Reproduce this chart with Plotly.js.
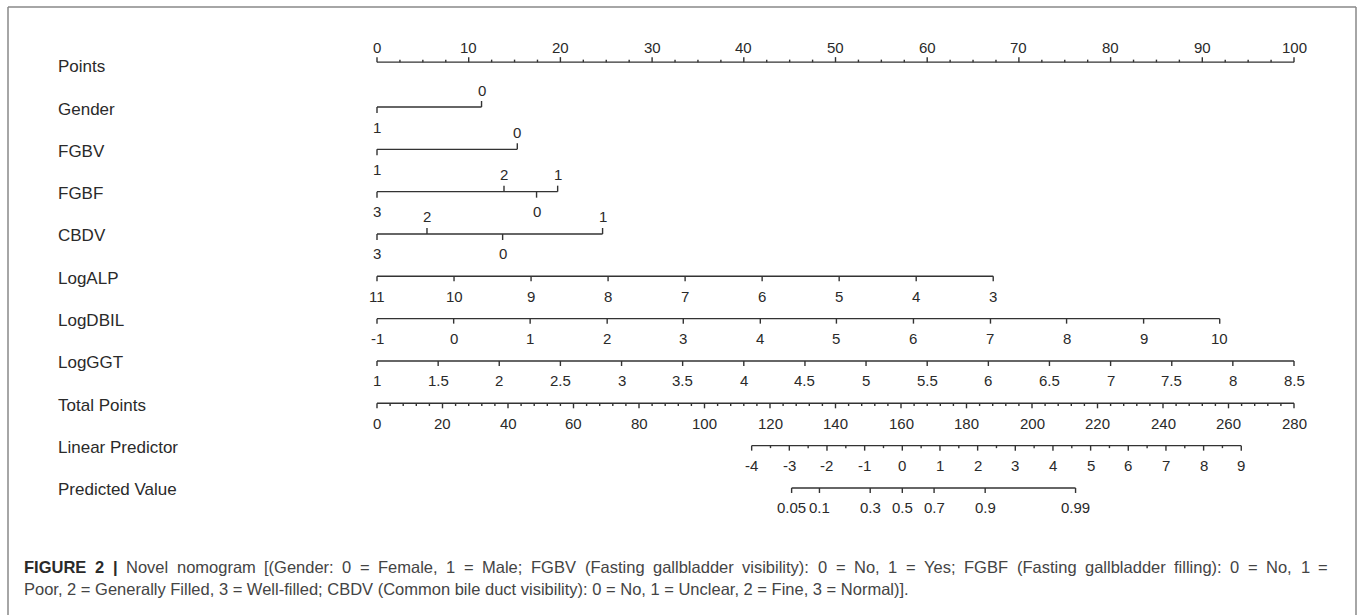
<!DOCTYPE html>
<html><head><meta charset="utf-8">
<script src="https://cdn.plot.ly/plotly-3.0.1.min.js"></script>
<style>html,body{margin:0;padding:0;background:#fff}#chart{width:1362px;height:615px}</style>
</head><body><div id="chart"></div>
<script>
// ---------------- DATA ----------------
const rowNames = ["Points","Gender","FGBV","FGBF","CBDV","LogALP","LogDBIL","LogGGT","Total Points","Linear Predictor","Predicted Value"];

const pointsTicks = [0,10,20,30,40,50,60,70,80,90,100];

const genderLabels = ["0","1"];
const genderPoints = [11.4, 0];

const fgbvLabels = ["0","1"];
const fgbvPoints = [15.3, 0];

const fgbfLabels = ["3","2","0","1"];
const fgbfPoints = [0, 13.85, 17.4, 19.7];

const cbdvLabels = ["3","2","0","1"];
const cbdvPoints = [0, 5.45, 13.7, 24.6];

const logALPLabels = ["11","10","9","8","7","6","5","4","3"];
const logALPPoints = [0, 8.4, 16.8, 25.2, 33.6, 42.0, 50.4, 58.8, 67.2];

const logDBILLabels = ["-1","0","1","2","3","4","5","6","7","8","9","10"];
const logDBILPoints = [0, 8.36, 16.7, 25.1, 33.4, 41.8, 50.1, 58.5, 66.9, 75.2, 83.6, 91.9];

const logGGTLabels = ["1","1.5","2","2.5","3","3.5","4","4.5","5","5.5","6","6.5","7","7.5","8","8.5"];
const logGGTPoints = [0, 6.67, 13.33, 20, 26.67, 33.33, 40, 46.67, 53.33, 60, 66.67, 73.33, 80, 86.67, 93.33, 100];

const totalTicks = [0,20,40,60,80,100,120,140,160,180,200,220,240,260,280];
const totalMax = 280;

const lpLabels = ["-4","-3","-2","-1","0","1","2","3","4","5","6","7","8","9"];
const lpTotal = [114.4, 125.9, 137.4, 148.9, 160.4, 171.9, 183.4, 194.9, 206.4, 217.9, 229.4, 240.9, 252.4, 263.9];

const pvLabels = ["0.05","0.1","0.3","0.5","0.7","0.9","0.99"];
const pvTotal = [126.6, 135.1, 150.6, 160.4, 170.1, 185.7, 213.3];

const captionBold = "FIGURE 2 |";
const captionLine1 = "Novel nomogram [(Gender: 0 = Female, 1 = Male; FGBV (Fasting gallbladder visibility): 0 = No, 1 = Yes; FGBF (Fasting gallbladder filling): 0 = No, 1 =";
const captionLine2 = "Poor, 2 = Generally Filled, 3 = Well-filled; CBDV (Common bile duct visibility): 0 = No, 1 = Unclear, 2 = Fine, 3 = Normal)].";

// ---------------- LAYOUT / STYLE ----------------
const W = 1362, H = 615;
const X0PX = 377, PXPERPT = 9.17;        // points scale placement
const ROW1PX = 107, PXPERROW = 42.33;    // row placement
const toPts = v => v * 100 / totalMax;   // total points -> points scale

const rowPos = [-0.06,1,2,3,4,5,6,7,8,9,10];
const lineColor = "#333";
const textColor = "#2a2a2a";
const FAM = "'Liberation Sans',Arial,sans-serif";
const tickFont = {family: FAM, size: 15, color: textColor};
const rowFont = {family: FAM, size: 17, color: textColor};

function midpoints(a){ const m=[]; for(let i=0;i<a.length-1;i++) m.push((a[i]+a[i+1])/2); return m; }
function stepMinor(lo, hi, step, majors){ const m=[]; for(let v=lo; v<=hi+1e-9; v+=step){ if(!majors.some(t=>Math.abs(t-v)<1e-6)) m.push(v);} return m; }

const rows = [
  {labels: pointsTicks.map(String), pos: pointsTicks, side: "up", tick: 5, minor: stepMinor(0,100,2.5,pointsTicks), minorTick: 2.5, offUp: 15},
  {labels: genderLabels, pos: genderPoints, side: ["up","down"], tick: 6},
  {labels: fgbvLabels, pos: fgbvPoints, side: ["up","down"], tick: 6},
  {labels: fgbfLabels, pos: fgbfPoints, side: ["down","up","down","up"], tick: 6},
  {labels: cbdvLabels, pos: cbdvPoints, side: ["down","up","down","up"], tick: 6},
  {labels: logALPLabels, pos: logALPPoints, side: "down", tick: 5},
  {labels: logDBILLabels, pos: logDBILPoints, side: "down", tick: 5},
  {labels: logGGTLabels, pos: logGGTPoints, side: "down", tick: 5},
  {labels: totalTicks.map(String), pos: totalTicks.map(toPts), side: "down", tick: 5,
     minor: stepMinor(0,totalMax,4,totalTicks).map(toPts), minorTick: 2.7},
  {labels: lpLabels, pos: lpTotal.map(toPts), side: "down", tick: 5, minor: midpoints(lpTotal).map(toPts), minorTick: 2.5},
  {labels: pvLabels, pos: pvTotal.map(toPts), side: "down", tick: 5}
];

const traces = [];
const annotations = [];
rows.forEach((r, i) => {
  const y = rowPos[i];
  const xs = [], ys = [];
  const lo = Math.min(...r.pos), hi = Math.max(...r.pos);
  xs.push(lo, hi, null); ys.push(y, y, null);
  r.pos.forEach((p, k) => {
    const side = Array.isArray(r.side) ? r.side[k] : r.side;
    const d = (side === "up" ? -1 : 1) * r.tick / PXPERROW;
    xs.push(p, p, null); ys.push(y, y + d, null);
    const off = side === "up" ? (r.offUp || 17) : (r.offDown || 20);
    annotations.push({x: p, y: y, xref: "x", yref: "y", text: r.labels[k], showarrow: false,
      xanchor: "center", yanchor: "middle", yshift: side === "up" ? off : -off, font: tickFont});
  });
  if (r.minor) {
    const side = Array.isArray(r.side) ? r.side[0] : r.side;
    r.minor.forEach(p => {
      const d = (side === "up" ? -1 : 1) * r.minorTick / PXPERROW;
      xs.push(p, p, null); ys.push(y, y + d, null);
    });
  }
  traces.push({x: xs, y: ys, type: "scatter", mode: "lines", line: {color: lineColor, width: 1.4},
    hoverinfo: "skip", showlegend: false, cliponaxis: false});
  annotations.push({x: 56 / W, xref: "paper", y: i, yref: "y", text: rowNames[i], showarrow: false,
    xanchor: "left", yanchor: "middle", yshift: -2, font: rowFont});
});

// ---------------- caption (first line justified like the journal layout) ----------------
const CAP_SIZE = 16.5, CAP_LEFT = 23, CAP_RIGHT = 1327;
const capFont = {family: FAM, size: CAP_SIZE, color: "#444"};
const capBoldFont = {family: FAM, size: CAP_SIZE, color: "#2a2a2a", weight: "bold"};
const ctx = document.createElement("canvas").getContext("2d");
function measure(t, bold){ ctx.font = (bold ? "bold " : "") + CAP_SIZE + "px 'Liberation Sans', Arial, sans-serif"; return ctx.measureText(t).width; }
const tokens = captionBold.split(" ").map(t => ({t, b: true})).concat(captionLine1.split(" ").map(t => ({t, b: false})));
const widths = tokens.map(o => measure(o.t, o.b));
const gap = ((CAP_RIGHT - CAP_LEFT) - widths.reduce((a, b) => a + b, 0)) / (tokens.length - 1);
let cx = CAP_LEFT;
tokens.forEach((o, k) => {
  annotations.push({x: cx / W, xref: "paper", y: 1 - 567 / H, yref: "paper", xanchor: "left", yanchor: "middle",
    showarrow: false, borderpad: 0, font: o.b ? capBoldFont : capFont, text: o.b ? "<b>" + o.t + "</b>" : o.t});
  cx += widths[k] + gap;
});
annotations.push({x: CAP_LEFT / W, xref: "paper", y: 1 - 589 / H, yref: "paper", xanchor: "left", yanchor: "middle",
  showarrow: false, borderpad: 0, font: capFont, text: captionLine2});

const frame = {color: "#888", width: 1.5};
const shapes = [
  {type: "line", xref: "paper", yref: "paper", x0: 8 / W, x1: 1356 / W, y0: 1 - 7 / H, y1: 1 - 7 / H, line: frame},
  {type: "line", xref: "paper", yref: "paper", x0: 8 / W, x1: 8 / W, y0: 1 - 7 / H, y1: -0.05, line: frame},
  {type: "line", xref: "paper", yref: "paper", x0: 1356 / W, x1: 1356 / W, y0: 1 - 7 / H, y1: -0.05, line: frame}
];

const layout = {
  width: W, height: H, margin: {l: 0, r: 0, t: 0, b: 0},
  paper_bgcolor: "#fff", plot_bgcolor: "#fff",
  xaxis: {visible: false, range: [-X0PX / PXPERPT, (W - X0PX) / PXPERPT], fixedrange: true},
  yaxis: {visible: false, range: [1 + (H - ROW1PX) / PXPERROW, 1 - ROW1PX / PXPERROW], fixedrange: true},
  annotations: annotations, shapes: shapes, showlegend: false
};
Plotly.newPlot("chart", traces, layout, {staticPlot: true, displayModeBar: false});
</script>
</body></html>
